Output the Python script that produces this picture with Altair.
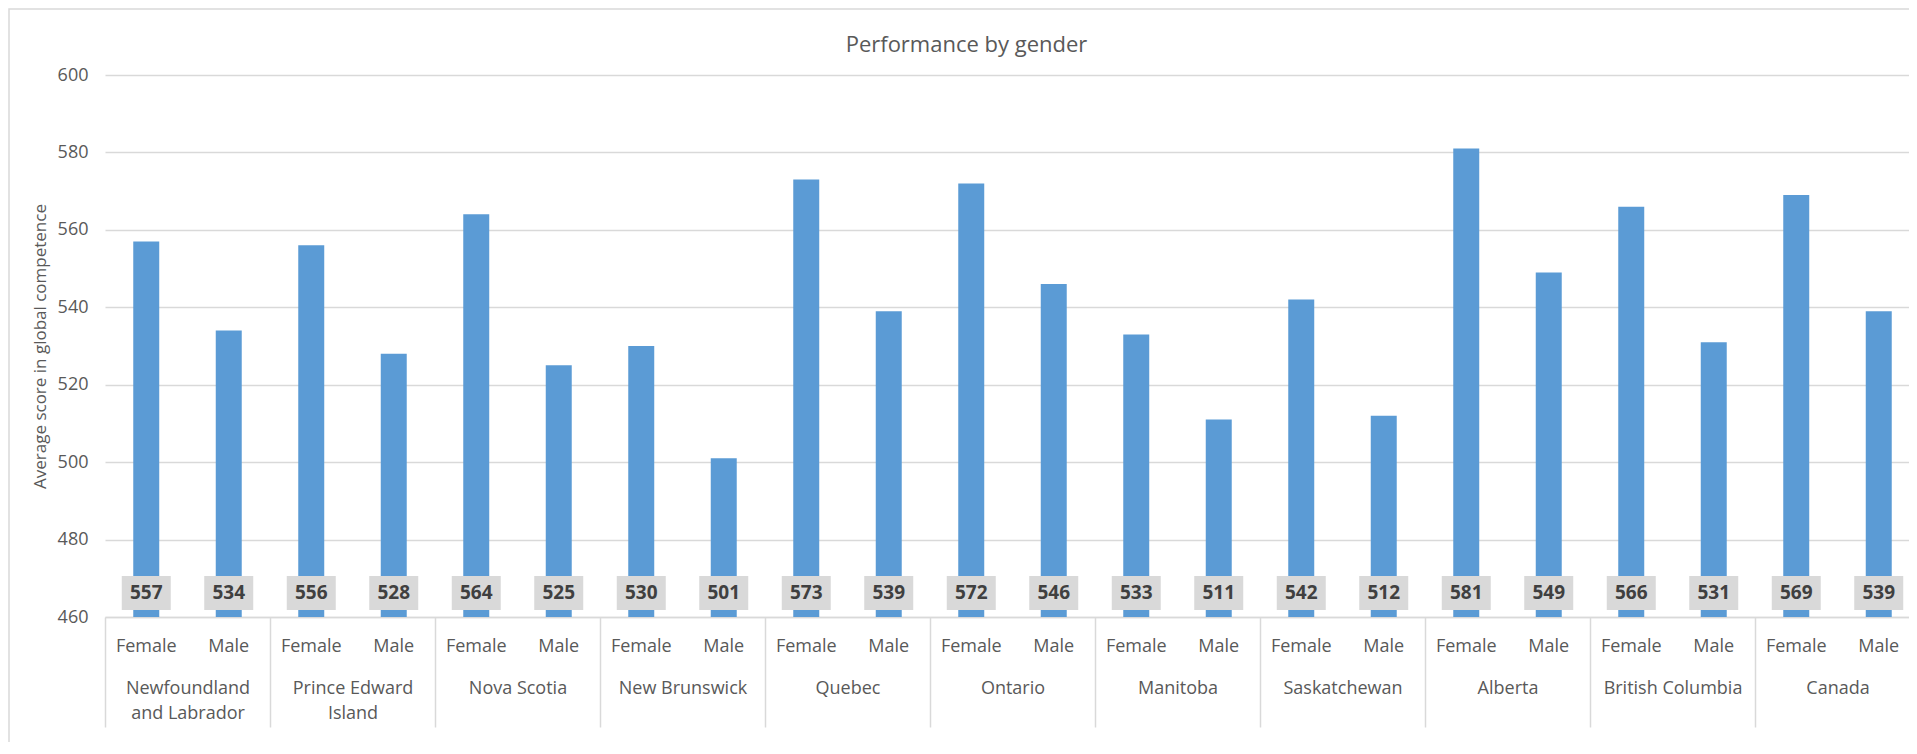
import altair as alt
import pandas as pd

provinces = ["Newfoundland\nand Labrador", "Prince Edward\nIsland", "Nova Scotia", "New Brunswick",
             "Quebec", "Ontario", "Manitoba", "Saskatchewan", "Alberta", "British Columbia", "Canada"]
genders = ["Female", "Male"]
female_scores = [557, 556, 564, 530, 573, 572, 533, 542, 581, 566, 569]
male_scores = [534, 528, 525, 501, 539, 546, 511, 512, 549, 531, 539]
y_ticks = [460, 480, 500, 520, 540, 560, 580, 600]

rows = []
for p, f, m in zip(provinces, female_scores, male_scores):
    rows.append({"province": p, "gender": "Female", "score": f})
    rows.append({"province": p, "gender": "Male", "score": m})
df = pd.DataFrame(rows)

W, H = 1815, 542
FONT = "Open Sans"
GRAY = "#595959"
LINE = "#d9d9d9"

x_enc = alt.X(
    "province:N", sort=provinces,
    scale=alt.Scale(paddingInner=0, paddingOuter=0),
    axis=alt.Axis(title=None, labelAngle=0, tickBand="extent", tickSize=110, tickColor=LINE,
                  tickWidth=1.5, domainColor=LINE, domainWidth=1.5, labelPadding=-48,
                  labelExpr="split(datum.label, '\\n')", labelFont=FONT, labelFontSize=18,
                  labelColor=GRAY, labelLineHeight=25, labelOverlap=False, labelBound=False),
)
xo_enc = alt.XOffset("gender:N", sort=genders,
                     scale=alt.Scale(paddingInner=0.685, paddingOuter=0.3425))

base = alt.Chart(df)

bars = base.mark_bar(color="#5B9BD5").encode(
    x=x_enc, xOffset=xo_enc,
    y=alt.Y("score:Q", scale=alt.Scale(domain=[460, 600], nice=False, zero=False),
            axis=alt.Axis(title="Average score in global competence", values=y_ticks,
                          domain=False, ticks=False, grid=True, gridColor=LINE, gridWidth=1.3,
                          labelPadding=17, labelFont=FONT, labelFontSize=18, labelColor=GRAY,
                          titleFont=FONT, titleFontSize=17, titleColor=GRAY,
                          titleFontWeight="normal", titleX=-65, titleY=H / 2,
                          titleBaseline="middle")),
    y2=alt.datum(460),
)

boxes = base.mark_bar(width=49, color="#d9d9d9").encode(
    x=x_enc, xOffset=xo_enc, y=alt.value(H - 41), y2=alt.value(H - 7)
)

values = base.mark_text(font=FONT, fontSize=19, fontWeight="bold", color="#404040",
                        baseline="middle").encode(
    x=x_enc, xOffset=xo_enc, y=alt.value(H - 24), text=alt.Text("score:Q", format="d")
)

gender_labels = base.mark_text(font=FONT, fontSize=18, color=GRAY, baseline="middle").encode(
    x=x_enc, xOffset=xo_enc, y=alt.value(H + 30), text="gender:N"
)

border = alt.Chart(pd.DataFrame({"k": [0]})).mark_rect(
    fill=None, stroke=LINE, strokeWidth=1.5
).encode(x=alt.value(-96), x2=alt.value(W + 60), y=alt.value(-66), y2=alt.value(H + 200))

chart = alt.layer(border, bars, boxes, values, gender_labels).properties(
    width=W, height=H,
    title=alt.Title("Performance by gender", font=FONT, fontSize=22, color=GRAY,
                    fontWeight="normal", anchor="middle", frame="group", dx=-46, offset=-49),
    padding={"left": 97, "top": 67, "right": -11, "bottom": 125},
    autosize="none",
).configure_view(stroke=None)

chart.save("out.html", embed_options={"renderer": "svg", "actions": False})
